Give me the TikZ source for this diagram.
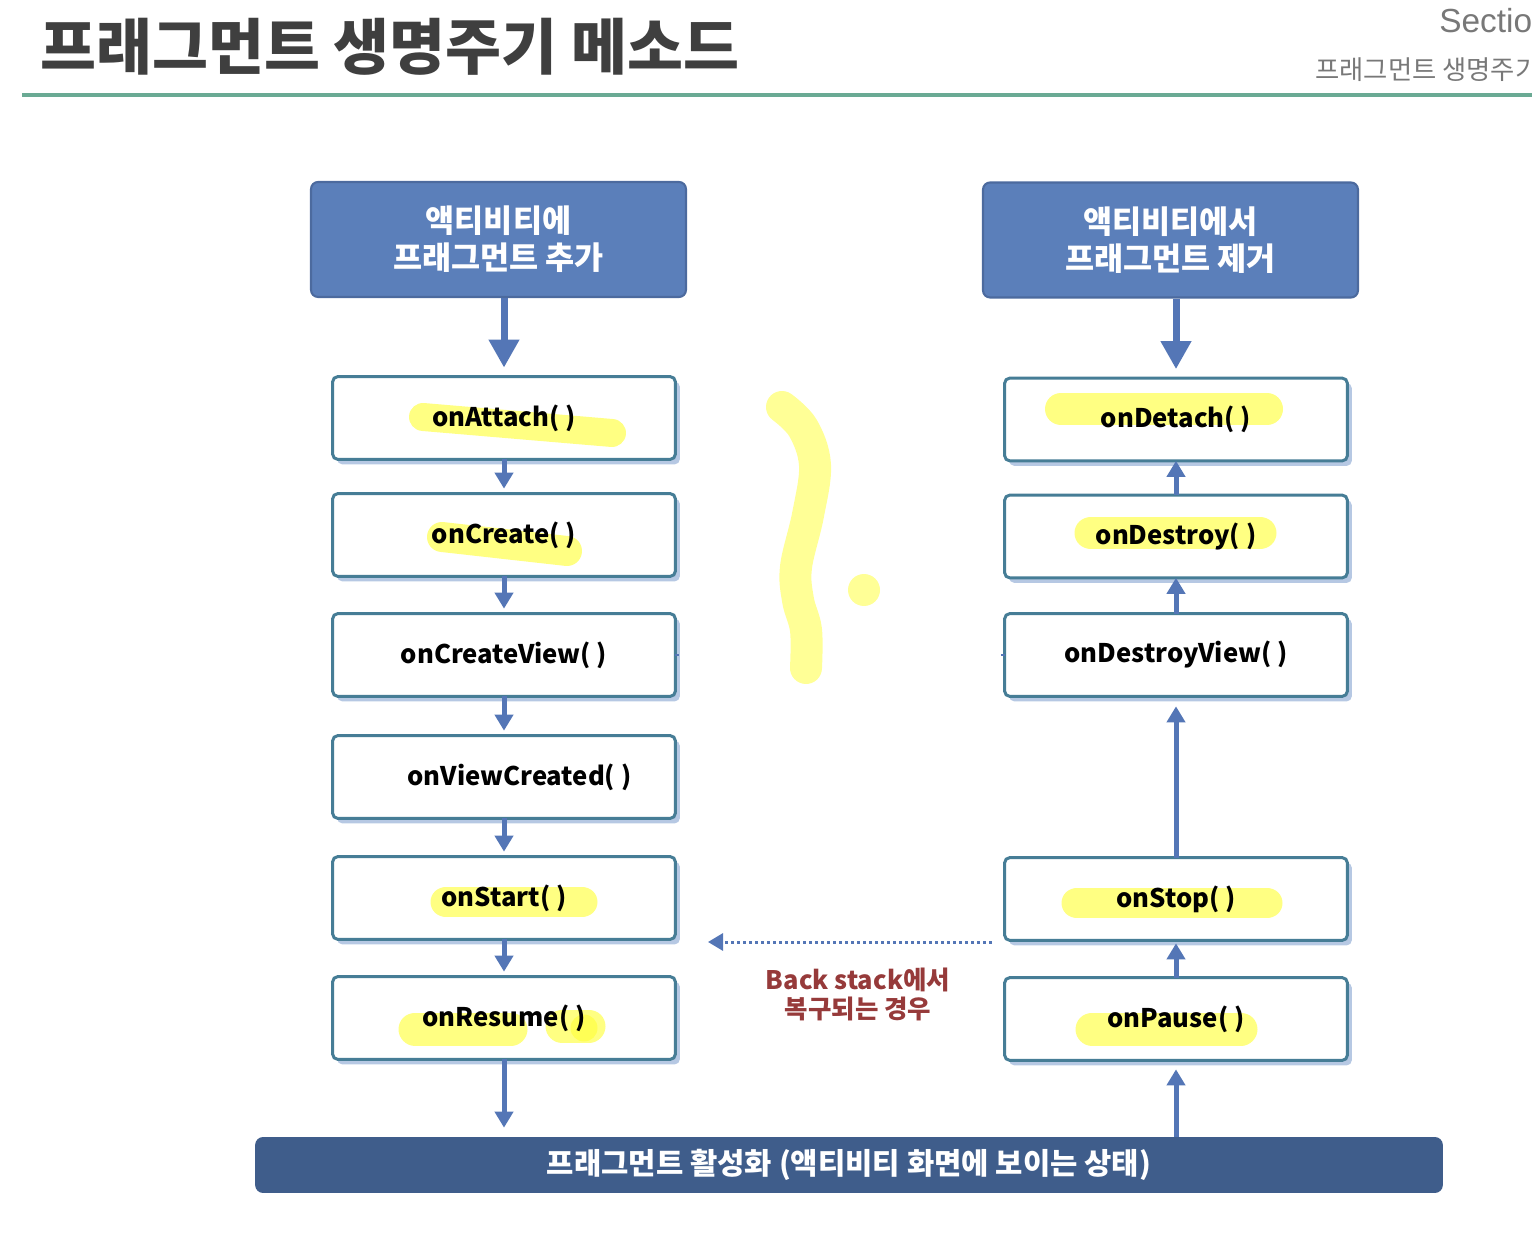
\documentclass[tikz,border=0pt]{standalone}
\usepackage{fontspec}
\setmainfont{Noto Sans CJK KR}
\newfontfamily\sectf{Liberation Sans}
\usetikzlibrary{arrows.meta}
\pgfdeclarelayer{bg}
\pgfdeclarelayer{hl}
\pgfsetlayers{bg,hl,main}
\definecolor{titlec}{RGB}{63,63,63}
\definecolor{graytxt}{RGB}{120,120,120}
\definecolor{greenc}{RGB}{106,170,148}
\definecolor{topfill}{RGB}{91,127,186}
\definecolor{topedge}{RGB}{76,106,158}
\definecolor{framec}{RGB}{70,125,150}
\definecolor{shadowc}{RGB}{182,200,227}
\definecolor{arrowc}{RGB}{84,118,182}
\definecolor{barc}{RGB}{63,93,139}
\definecolor{backred}{RGB}{150,58,58}
\definecolor{hly}{RGB}{255,255,60}
\definecolor{scribc}{RGB}{255,255,150}
\begin{document}
\begin{tikzpicture}[x=0.02cm,y=-0.02cm,
  box/.style={minimum width=6.84cm, minimum height=1.64cm, inner sep=0pt,
    font=\bfseries\fontsize{14.6}{17}\selectfont, text=black},
  topbox/.style={draw=topedge, fill=topfill, line width=1.2pt, rounded corners=0.14cm,
    minimum width=7.5cm, minimum height=2.3cm, inner sep=0pt, text=white, align=center,
    font=\bfseries\fontsize{18}{21}\selectfont},
  barbox/.style={fill=barc, rounded corners=0.16cm, minimum width=23.76cm, minimum height=1.12cm,
    inner sep=0pt, text=white, font=\bfseries\fontsize{16.9}{19}\selectfont},
  arr/.style={draw=arrowc, line width=0.1cm, -{Triangle[length=0.32cm,width=0.36cm]}},
  bigarr/.style={draw=arrowc, line width=0.14cm, -{Triangle[length=0.56cm,width=0.58cm]}},
  dotarr/.style={draw=arrowc, line width=0.06cm, dash pattern=on 0.06cm off 0.06cm,
    -{Triangle[length=0.3cm,width=0.34cm]}},
  hlstroke/.style={draw=hly, line width=#1, line cap=round, opacity=0.64},
  frame/.style={draw=framec, fill=white, line width=1.7pt, rounded corners=0.1cm},
  shadowbox/.style={fill=shadowc, rounded corners=0.1cm}
]
\useasboundingbox (0,0) rectangle (1532,1236);
\clip (0,0) rectangle (1532,1236);

% header
\node[anchor=west, text=titlec, font=\bfseries\fontsize{34.6}{38}\selectfont, inner sep=0pt] (title) at (40,47) {프래그먼트 생명주기 메소드};
\node[anchor=west, text=graytxt, font=\sectf\fontsize{19}{22}\selectfont, inner sep=0pt] (sec) at (1439,21) {Section};
\node[anchor=west, text=graytxt, font=\fontsize{15}{18}\selectfont, inner sep=0pt] (sub) at (1315,70) {프래그먼트 생명주기};
\draw[greenc, line width=0.08cm] (22,95) -- (1532,95);

% top boxes
\node[topbox] (t1) at (498.5,239.5) {액티비티에\\프래그먼트 추가};
\node[topbox] (t2) at (1170.5,240) {액티비티에서\\프래그먼트 제거};

% left column
\node[box] (a1) at (504,418) {onAttach( )};
\node[box] (a2) at (504,535) {onCreate( )};
\node[box] (a3) at (504,655) {onCreateView( )};
\node[box] (a4) at (504,777) {\hspace*{0.62cm}onViewCreated( )};
\node[box] (a5) at (504,898) {onStart( )};
\node[box] (a6) at (504,1018) {onResume( )};

% right column
\node[box] (b1) at (1176,419.5) {onDetach( )};
\node[box] (b2) at (1176,536.5) {onDestroy( )};
\node[box] (b3) at (1176,655) {onDestroyView( )};
\node[box] (b4) at (1176,899) {onStop( )};
\node[box] (b5) at (1176,1019) {onPause( )};

% bottom bar
\node[barbox] (bar) at (849,1165) {프래그먼트 활성화 (액티비티 화면에 보이는 상태)};

% back stack label
\node[align=center, text=backred, font=\bfseries\fontsize{14.5}{16.5}\selectfont, inner sep=0pt] (bst) at (858,994) {Back stack에서\\복구되는 경우};

% frames and shadows
\begin{pgfonlayer}{bg}
\foreach \n in {a1,a2,a3,a4,a5,a6,b1,b2,b3,b4,b5}{
  \fill[shadowbox] ([shift={(0.09cm,-0.1cm)}]\n.south west) rectangle ([shift={(0.09cm,-0.1cm)}]\n.north east);
  \draw[frame] (\n.south west) rectangle (\n.north east);
}
\end{pgfonlayer}

% highlights
\begin{pgfonlayer}{hl}
\draw[hlstroke=0.56cm] (423,417) -- (612,433);
\draw[hlstroke=0.6cm] (442,537) -- (567,551);
\draw[hlstroke=0.62cm] (446,902) -- (582,902);
\draw[hlstroke=0.66cm] (415,1029) -- (511,1029);
\draw[hlstroke=0.66cm] (562,1026) -- (589,1026);
\fill[hly, opacity=0.64] (584,1028) circle (0.27cm);
\draw[hlstroke=0.64cm] (1061,409) -- (1267,409);
\draw[hlstroke=0.66cm] (1091,533) -- (1260,533);
\draw[hlstroke=0.62cm] (1077,903) -- (1267,903);
\draw[hlstroke=0.66cm] (1092,1029) -- (1241,1029);
\end{pgfonlayer}

% scribble
\draw[scribc, line width=0.64cm, line cap=round, line join=round]
  plot[smooth, tension=0.6] coordinates {(782,407) (803,428) (815,465) (808,515) (796,567) (798,600) (806,630) (806,668)};
\fill[scribc] (864,590) circle (0.32cm);

% connectors left
\draw[bigarr, shorten >=0.18cm] (t1.south -| a1) -- (a1.north);
\draw[arr, shorten >=0.1cm] (a1) -- (a2);
\draw[arr, shorten >=0.1cm] (a2) -- (a3);
\draw[arr, shorten >=0.1cm] (a3) -- (a4);
\draw[arr, shorten >=0.1cm] (a4) -- (a5);
\draw[arr, shorten >=0.1cm] (a5) -- (a6);
\draw[arr, shorten >=0.18cm] (a6.south) -- (bar.north -| a6);

% connectors right
\draw[bigarr, shorten >=0.18cm] (t2.south -| b1) -- (b1.north);
\draw[arr] (b2) -- (b1);
\draw[arr] (b3) -- (b2);
\draw[arr, shorten >=0.2cm] (b4) -- (b3);
\draw[arr, shorten >=0.06cm] (b5) -- (b4);
\draw[arr, shorten >=0.18cm] (bar.north -| b5) -- (b5.south);

% back stack
\coordinate (bs1) at (992,942);
\coordinate (bs2) at (708,942);
\draw[dotarr] (bs1) -- (bs2);

% tiny stubs
\draw[arrowc, line width=0.06cm] (a3.east) -- ++(4,0);
\draw[arrowc, line width=0.06cm] (b3.west) -- ++(-4,0);
\end{tikzpicture}
\end{document}
